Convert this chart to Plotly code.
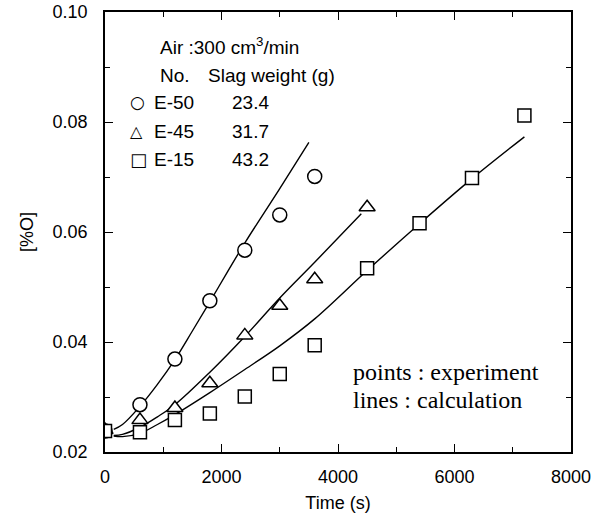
import plotly.graph_objects as go

# Experimental points
t_e50 = [0, 600, 1200, 1800, 2400, 3000, 3600]
o_e50 = [0.0238, 0.0286, 0.0369, 0.0475, 0.0567, 0.0631, 0.0701]
t_e45 = [0, 600, 1200, 1800, 2400, 3000, 3600, 4500]
o_e45 = [0.0240, 0.0258, 0.0280, 0.0325, 0.0412, 0.0466, 0.0514, 0.0645]
t_e15 = [0, 600, 1200, 1800, 2400, 3000, 3600, 4500, 5400, 6300, 7200]
o_e15 = [0.0238, 0.0236, 0.0258, 0.0270, 0.0301, 0.0342, 0.0394, 0.0534, 0.0616, 0.0698, 0.0812]

# Calculated lines
tc_e50 = [150, 300, 600, 900, 1200, 1500, 1800, 2100, 2400, 3000, 3500]
oc_e50 = [0.0241, 0.0250, 0.0283, 0.0323, 0.0368, 0.0420, 0.0473, 0.0527, 0.0580, 0.0679, 0.0763]
tc_e45 = [150, 300, 600, 900, 1200, 1800, 2400, 3000, 3600, 4400]
oc_e45 = [0.0230, 0.0232, 0.0245, 0.0264, 0.0286, 0.0345, 0.0410, 0.0480, 0.0545, 0.0633]
tc_e15 = [150, 300, 600, 900, 1200, 1800, 2400, 3000, 3600, 4500, 5400, 6300, 7200]
oc_e15 = [0.0229, 0.0228, 0.0234, 0.0250, 0.0268, 0.0308, 0.0350, 0.0393, 0.0442, 0.0530, 0.0615, 0.0697, 0.0773]

x_ticks = [0, 2000, 4000, 6000, 8000]
y_ticks = [0.02, 0.04, 0.06, 0.08, 0.10]
y_labels = ["0.02", "0.04", "0.06", "0.08", "0.10"]

SANS = "Liberation Sans, Arial, sans-serif"
SERIF = "Liberation Serif, Times New Roman, serif"

fig = go.Figure()
line_style = dict(color="black", width=1.4)
for tc, oc in [(tc_e50, oc_e50), (tc_e45, oc_e45), (tc_e15, oc_e15)]:
    fig.add_trace(go.Scatter(x=tc, y=oc, mode="lines", line=line_style,
                             line_shape="spline", showlegend=False, hoverinfo="skip"))

for t, o, sym, sz in [(t_e50, o_e50, "circle", 14), (t_e45, o_e45, "triangle-up", 14),
                      (t_e15, o_e15, "square", 13)]:
    fig.add_trace(go.Scatter(x=t, y=o, mode="markers",
                             marker=dict(symbol=sym, size=sz, color="white",
                                         line=dict(color="black", width=1.5)),
                             showlegend=False))

axis_common = dict(showline=True, linecolor="black", linewidth=1.5, mirror="ticks",
                   ticks="inside", ticklen=8, tickwidth=1.3, tickcolor="black",
                   showgrid=False, zeroline=False, automargin=False,
                   tickfont=dict(family=SANS, size=18, color="black"))

fig.update_xaxes(range=[0, 8000], tickvals=x_ticks, ticktext=[str(v) for v in x_ticks],
                 minor=dict(ticks="inside", dtick=1000, ticklen=5, tickcolor="black", tickwidth=1.3),
                 title=dict(text="Time (s)", font=dict(family=SANS, size=18, color="black"), standoff=10),
                 ticklabelstandoff=8, **axis_common)
fig.update_yaxes(range=[0.02, 0.10], tickvals=y_ticks, ticktext=y_labels,
                 minor=dict(ticks="inside", dtick=0.01, ticklen=5, tickcolor="black", tickwidth=1.3),
                 title=dict(text="[%O]", font=dict(family=SANS, size=18, color="black"), standoff=14),
                 ticklabelstandoff=12, **axis_common)

ann = []
def txt(x, y, s, font, size, anchor="left"):
    ann.append(dict(x=x, y=y, xref="paper", yref="paper", text=s, showarrow=False,
                    xanchor=anchor, yanchor="middle",
                    font=dict(family=font, size=size, color="black")))

px_l, px_r, px_t, px_b = 105, 571, 12, 452
def px(x, y):
    return (x - px_l) / (px_r - px_l), (px_b - y) / (px_b - px_t)

txt(*px(158, 46), "Air :300 cm<sup>3</sup>/min", SANS, 19)
txt(*px(158, 75), "No.", SANS, 19)
txt(*px(206, 75), "Slag weight (g)", SANS, 19)
txt(*px(128, 102), "○", "DejaVu Sans", 17)
txt(*px(128, 131), "△", "DejaVu Sans", 16)
txt(*px(128, 159), "□", "DejaVu Sans", 18)
txt(*px(152, 102), "E-50", SANS, 19)
txt(*px(152, 131), "E-45", SANS, 19)
txt(*px(152, 159), "E-15", SANS, 19)
txt(*px(230, 102), "23.4", SANS, 19)
txt(*px(230, 131), "31.7", SANS, 19)
txt(*px(230, 159), "43.2", SANS, 19)
txt(*px(351, 372), "points : experiment", SERIF, 24)
txt(*px(351, 400), "lines : calculation", SERIF, 24)

fig.update_layout(width=608, height=519, margin=dict(l=px_l, r=608 - px_r, t=px_t, b=519 - px_b),
                  plot_bgcolor="white", paper_bgcolor="white", annotations=ann,
                  showlegend=False)

fig.write_html("out.html")
